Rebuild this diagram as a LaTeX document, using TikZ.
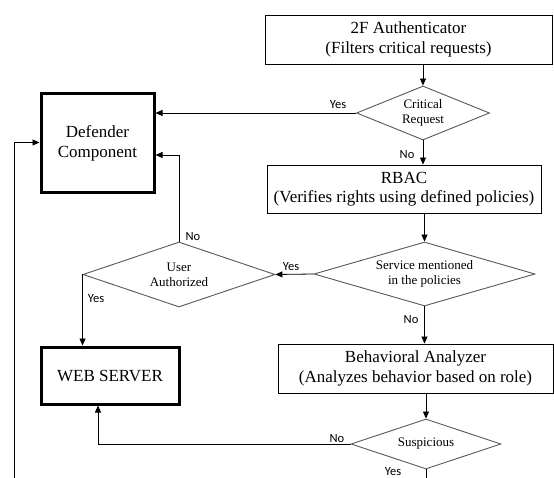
\documentclass[tikz,border=0pt]{standalone}
\usepackage{fontspec}
\setmainfont{Liberation Serif}
\newfontfamily\lblfont{Carlito}
\usetikzlibrary{shapes.geometric,arrows.meta,calc}
\begin{document}
\begin{tikzpicture}[x=1pt,y=-1pt,
  box/.style={draw, line width=0.9pt, rectangle, inner sep=0pt, align=center, font=\fontsize{17}{19.5}\selectfont},
  thickbox/.style={box, line width=3pt},
  dia/.style={diamond, draw=black!65, line width=0.9pt, inner sep=0pt, align=center, font=\fontsize{13}{15}\selectfont},
  arr/.style={-{Triangle[length=7pt,width=6pt]}, line width=0.8pt},
  lbl/.style={font=\lblfont\fontsize{12.5}{13}\selectfont, inner sep=0pt, text=black}]
\useasboundingbox (0,0) rectangle (554,478);
\clip (0,0) rectangle (554,478);
\fill[white] (0,0) rectangle (554,478);

\node[box, minimum width=287pt, minimum height=49pt] (auth) at (408.5,39.5) {2F Authenticator\\(Filters critical requests)};
\node[dia, minimum width=133pt, minimum height=54pt, aspect=2.46] (crit) at (423,113) {Critical\\Request};
\node[thickbox, minimum width=113pt, minimum height=99pt] (def) at (97.5,143.5) {Defender\\Component};
\node[box, minimum width=274pt, minimum height=48pt] (rbac) at (404,189) {RBAC\\(Verifies rights using defined policies)};
\node[dia, minimum width=221pt, minimum height=64pt, aspect=3.45] (svc) at (424.5,274) {Service mentioned\\in the policies};
\node[dia, minimum width=192pt, minimum height=65pt, aspect=2.95] (ua) at (179,274.5) {User\\Authorized};
\node[thickbox, minimum width=138pt, minimum height=57pt] (web) at (110,375.5) {WEB SERVER};
\node[box, minimum width=275pt, minimum height=49pt] (beh) at (415.5,368.5) {Behavioral Analyzer\\(Analyzes behavior based on role)};
\node[dia, minimum width=150pt, minimum height=50pt, aspect=3] (sus) at (426,444) {Suspicious};

\draw[arr] (auth.south -| crit.north) -- (crit.north);
\draw[arr] (crit.west) -- (crit.west -| def.east);
\draw[arr] (crit.south) -- (crit.south |- rbac.north);
\draw[arr] (svc.north |- rbac.south) -- (svc.north);
\draw[arr] (svc.west) -- (ua.east);
\draw[arr] (ua.north) |- ([yshift=-11.5pt]def.east);
\draw[arr] (ua.west) -- (ua.west |- web.north);
\draw[arr] (svc.south) -- (svc.south |- beh.north);
\draw[arr] (sus.north |- beh.south) -- (sus.north);
\draw[arr] (sus.west) -| ([xshift=-12pt]web.south);
\coordinate (sout) at (426,490);
\draw[line width=0.8pt] (sus.south) -- (sout);
\coordinate (fb) at (14,490);
\draw[arr] (fb) |- ([yshift=1pt]def.west);

\node[lbl] (l1) at (338,105) {Yes};
\node[lbl] (l2) at (407,155) {No};
\node[lbl] (l3) at (291,267) {Yes};
\node[lbl] (l4) at (193,237) {No};
\node[lbl] (l5) at (96,299) {Yes};
\node[lbl] (l6) at (411,320) {No};
\node[lbl] (l7) at (337,439) {No};
\node[lbl] (l8) at (393,472) {Yes};
\end{tikzpicture}
\end{document}
